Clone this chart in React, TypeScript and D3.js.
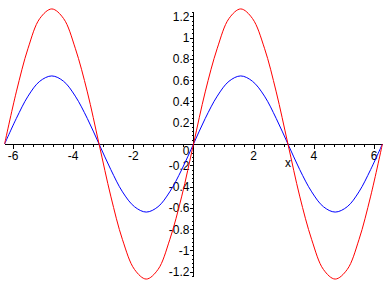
import React from "react";
import * as d3 from "d3";

const xs = [-6.28, -5.89, -5.5, -5.11, -4.71, -4.32, -3.93, -3.53, -3.14, -2.75, -2.36, -1.96, -1.57, -1.18, -0.79, -0.39, 0, 0.39, 0.79, 1.18, 1.57, 1.96, 2.36, 2.75, 3.14, 3.53, 3.93, 4.32, 4.71, 5.11, 5.5, 5.89, 6.28];
const redValues = [0, 0.49, 0.9, 1.18, 1.27, 1.18, 0.9, 0.49, 0, -0.49, -0.9, -1.18, -1.27, -1.18, -0.9, -0.49, 0, 0.49, 0.9, 1.18, 1.27, 1.18, 0.9, 0.49, 0, -0.49, -0.9, -1.18, -1.27, -1.18, -0.9, -0.49, 0];
const blueValues = [0, 0.24, 0.45, 0.59, 0.64, 0.59, 0.45, 0.24, 0, -0.24, -0.45, -0.59, -0.64, -0.59, -0.45, -0.24, 0, 0.24, 0.45, 0.59, 0.64, 0.59, 0.45, 0.24, 0, -0.24, -0.45, -0.59, -0.64, -0.59, -0.45, -0.24, 0];
const xTickLabels = ["-6", "-4", "-2", "2", "4", "6"];
const xTickValues = [-6, -4, -2, 2, 4, 6];
const yTickValues = [1.2, 1, 0.8, 0.6, 0.4, 0.2, -0.2, -0.4, -0.6, -0.8, -1, -1.2];
const yTickLabels = ["1.2", "1", "0.8", "0.6", "0.4", "0.2", "-0.2", "-0.4", "-0.6", "-0.8", "-1", "-1.2"];

const W = 388, H = 288;
const x = d3.scaleLinear().domain([-6.2832, 6.2832]).range([4.5, 382.5]);
const y = d3.scaleLinear().domain([-1.354, 1.354]).range([288, 0]);

const font = "'Liberation Sans', Arial, sans-serif";

export default function App() {
  const line = d3.line<number>().x((_, i) => x(xs[i])).y((d) => y(d)).curve(d3.curveCatmullRom.alpha(0.5));
  const x0 = Math.round(x(0)) + 0.5 - 1;
  const y0 = Math.round(y(0)) + 0.5;
  const xMinor = d3.range(-18, 19).map((k) => k / 3).filter((v) => Math.abs(v) <= 6.2832 && k3(v));
  function k3(v: number) { return Math.abs(Math.round(v) - v) > 1e-6 || Math.round(v) % 2 !== 0; }
  const yMinor = d3.range(-31, 32).map((k) => k * 0.04).filter((v) => Math.abs(Math.round(v * 5) - v * 5) > 1e-6);
  return (
    <svg width={W} height={H} style={{ position: "fixed", left: 0, top: 0, background: "#fff" }}>
      <rect width={W} height={H} fill="#fff" />
      <g stroke="#000" strokeWidth={1} shapeRendering="crispEdges">
        <line x1={x(-6.2832)} x2={x(6.2832)} y1={y0} y2={y0} />
        <line x1={x0} x2={x0} y1={y(1.24)} y2={y(-1.24)} />
        {xTickValues.map((v) => (
          <line key={"xM" + v} x1={Math.round(x(v)) + 0.5} x2={Math.round(x(v)) + 0.5} y1={y0} y2={y0 + 4} />
        ))}
        {xMinor.map((v) => (
          <line key={"xm" + v} x1={Math.round(x(v)) + 0.5} x2={Math.round(x(v)) + 0.5} y1={y0} y2={y0 + 2} />
        ))}
        {yTickValues.map((v) => (
          <line key={"yM" + v} x1={x0 - 4} x2={x0} y1={Math.round(y(v)) + 0.5} y2={Math.round(y(v)) + 0.5} />
        ))}
        {yMinor.map((v) => (
          <line key={"ym" + v} x1={x0 - 2} x2={x0} y1={Math.round(y(v)) + 0.5} y2={Math.round(y(v)) + 0.5} />
        ))}
      </g>
      <g fontFamily={font} fontSize={12} fill="#000">
        {xTickValues.map((v, i) => (
          <text key={"xl" + v} x={x(v)} y={y0 + 15} textAnchor="middle">{xTickLabels[i]}</text>
        ))}
        <text x={x0 - 4} y={y0 + 10.5} textAnchor="end">0</text>
        {yTickValues.map((v, i) => (
          <text key={"yl" + v} x={x0 - 4} y={y(v) + 4.5} textAnchor="end">{yTickLabels[i]}</text>
        ))}
        <text x={x(3.14)} y={y0 + 22} textAnchor="middle">x</text>
      </g>
      <path d={line(blueValues) || ""} fill="none" stroke="#0000ff" strokeWidth={1} />
      <path d={line(redValues) || ""} fill="none" stroke="#ff0000" strokeWidth={1} />
    </svg>
  );
}
